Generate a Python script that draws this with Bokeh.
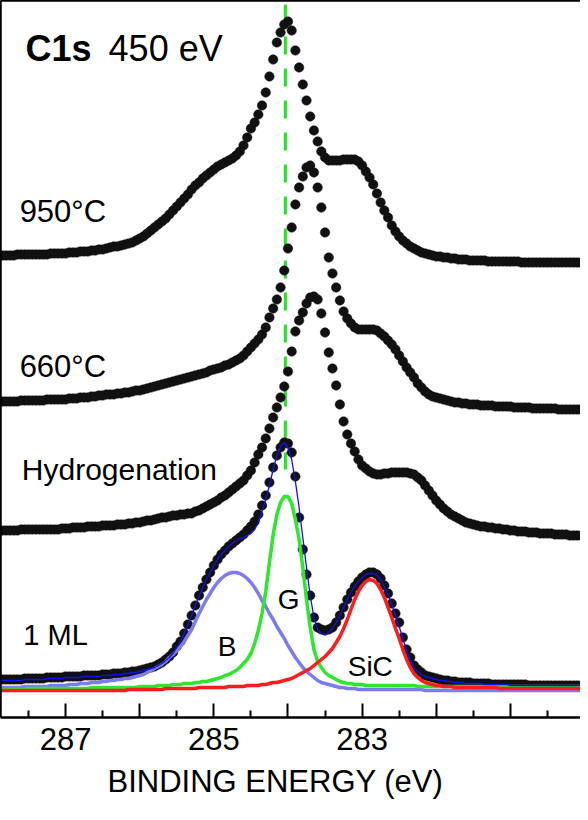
from bokeh.plotting import figure
from bokeh.models import Range1d, FixedTicker, CustomJSTickFormatter, LinearAxis, Label, ColumnDataSource, Title
from bokeh.embed import file_html
from bokeh.resources import INLINE

# ---------------- data (binding energy grid, eV) ----------------
E_START, E_STEP, N_PTS = 287.90, 0.05, 158
energy = [round(E_START - E_STEP * i, 2) for i in range(N_PTS)]

# spectra (offset intensities, arbitrary units), segments of the grid:
# A 287.90-287.10 (17) | B 287.05-286.45 (13) | C..O 9 points each | P 280.55-280.05 (11)
s950 = ([462]*5 + [463]*9 + [464]*3 +
        [464,464,465,465,465,466,466,466,467,467,468,468,469] +
        [470,471,471,472,473,474,475,477,479] +
        [481,484,487,490,493,496,499,503,507] +
        [511,515,519,523,528,532,535,539,542] +
        [545,548,551,553,555,557,559,562,566] +
        [572,580,589,595,603,612,625,641,658] +
        [675,685,693,696,687,667,650,633,617] +
        [601,587,576,566,560,557,557,557,557] +
        [558,558,558,558,556,552,546,540,533] +
        [524,515,507,500,492,486,481,477,474] +
        [471,469,467,465,464,463,462,461,461] +
        [460,460,459,459,458,458,458,457,457] +
        [457,457,457,456,456,456,456,456,456] +
        [456,456,456,455,455,455,455,455,455] +
        [455]*11)

s660 = ([316,316,316,316,316,316,317,317,317,317,317,317,317,318,318,318,318] +
        [318,318,319,319,319,320,320,320,321,321,322,322,323] +
        [323,323,324,324,325,325,326,327,327] +
        [328,329,330,331,332,333,334,335,336] +
        [337,338,339,340,341,342,343,344,345] +
        [347,348,349,350,352,353,355,357,359] +
        [362,366,370,374,378,383,390,400,409] +
        [418,430,447,469,490,513,530,541,550] +
        [552,545,530,510,485,460,444,430,417] +
        [406,399,394,390,388,388,388,388,388] +
        [387,384,381,377,373,368,362,356,350] +
        [345,340,334,330,326,323,321,320,319] +
        [318,317,316,315,315,314,314,313,313] +
        [313,312,312,312,312,311,311,311,311] +
        [311,310,310,310,310,310,309,309,309] +
        [309,309,309,309,308,308,308,308,308,308,308])

s_hyd = ([187]*6 + [188]*11 +
         [189,189,189,190,190,190,190,191,191,191,191,192,192] +
         [192,192,193,193,193,194,194,195,195] +
         [196,197,197,198,199,200,200,201,202] +
         [202,203,203,204,204,206,207,209,211] +
         [213,215,217,220,222,225,228,231,234] +
         [237,242,247,255,263,270,279,289,300] +
         [310,320,331,346,366,386,397,405,414] +
         [420,421,418,404,385,365,349,332,313] +
         [296,283,274,266,258,252,249,246,244] +
         [243,243,244,244,245,245,245,245,245] +
         [244,243,240,237,232,227,222,217,213] +
         [209,206,203,201,199,197,195,194,193] +
         [192,191,191,190,190,189,189,188,188] +
         [187,187,186,186,186,185,185,185,184] +
         [184,184,184,183,183,183,183,182,182,182,182])

s_1ml = ([38]*7 + [39]*6 + [40]*4 +
         [40,41,41,41,41,41,42,42,42,42,42,43,43] +
         [43,44,44,44,45,45,46,46,47] +
         [48,49,50,51,53,55,58,61,65] +
         [71,76,84,93,102,112,122,130,138] +
         [145,152,158,163,167,171,174,177,180] +
         [183,187,191,196,203,212,222,235,250] +
         [262,270,275,274,265,241,200,168,143] +
         [122,100,90,88,87,88,90,95,102] +
         [110,118,125,131,136,140,143,145,145] +
         [143,139,132,124,114,104,95,80,68] +
         [60,52,48,45,42,41,40,39,38] +
         [37,37,36,36,35,35,35,35,34] +
         [34,34,34,34,33,33,33,33,33] +
         [33,33,33,33,33,32,32,32,32] +
         [32]*11)

# fit components of the 1 ML spectrum
fit_sum = ([37]*7 + [38]*6 + [39]*4 +
           [39,40,40,40,40,40,41,41,41,41,41,42,42] +
           [42,43,43,43,44,44,45,45,46] +
           [47,48,49,50,52,54,57,60,64] +
           [70,76,84,93,102,112,121,130,138] +
           [145,152,158,163,167,171,174,177,179] +
           [180,182,184,188,195,206,218,232,248] +
           [262,271,275,270,258,236,210,180,150] +
           [122,100,88,84,83,85,89,95,102] +
           [110,118,125,131,136,140,143,144,144] +
           [142,138,131,123,113,102,91,79,67] +
           [57,50,46,43,41,40,39,38,37] +
           [37,36,36,35,35,35,34,34,34] +
           [34,34,33,33,33,33,33,33,33] +
           [32]*9 +
           [32]*11)

fit_b = ([30]*7 + [31]*7 + [32]*3 +
         [32,32,33,33,33,34,34,34,35,35,35,36,36] +
         [37,37,38,38,39,39,40,41,42] +
         [43,45,47,49,51,53,56,60,63] +
         [67,71,76,82,88,96,104,111,118] +
         [124,130,135,139,142,144,145,145,144] +
         [142,139,135,130,124,117,111,104,98] +
         [91,85,79,72,66,60,55,50,46] +
         [43,40,37,35,34,33,32,31,30] +
         [30,29,29,29,28,28,28,28,28] +
         [28]*9 +
         [28,28,28,28,27,27,27,27,27] +
         [27]*27 +
         [27]*11)

fit_g = ([28]*8 + [29]*9 +
         [29]*8 + [30]*5 +
         [30]*8 + [31] +
         [31,31,31,31,32,32,32,32,33] +
         [33,33,34,34,34,35,35,36,36] +
         [37,38,39,40,42,43,45,47,50] +
         [54,58,64,74,87,104,126,155,183] +
         [203,215,221,221,214,198,178,150,118] +
         [90,68,56,50,45,42,40,38,36] +
         [35,34,34,33,33,33,32,32,32] +
         [32]*9 +
         [32,32,31,31,31,31,31,31,31] +
         [31]*27 +
         [31]*11)

fit_sic = ([27]*17 +
           [27]*13 +
           [27,27,27,27,27,28,28,28,28] +
           [28,28,28,28,28,28,29,29,29] +
           [29,29,29,29,29,29,30,30,30] +
           [30,30,30,30,30,31,31,31,31] +
           [31,32,32,32,32,33,33,34,35] +
           [35,36,37,38,39,41,43,45,47] +
           [49,52,55,58,61,65,69,75,81] +
           [89,98,108,118,126,132,136,138,137] +
           [134,128,120,110,100,89,79,68,58] +
           [50,44,40,37,35,34,33,32,32] +
           [31,31,31,30,30,30,30,30,30] +
           [30,30,30,30,30,30,29,29,29] +
           [29]*9 +
           [29]*11)

g_peak_energy = 284.035          # dashed marker of the graphene component
g_marker_top, g_marker_bottom = 713, 248

major_ticks = [287, 286, 285, 284, 283, 282, 281]
minor_ticks = [287.5, 286.5, 285.5, 284.5, 283.5, 282.5, 281.5, 280.5]
labelled_ticks = [287, 285, 283]
x_title = "BINDING ENERGY (eV)"

src = ColumnDataSource(dict(e=energy, s950=s950, s660=s660, hyd=s_hyd, ml=s_1ml,
                            fsum=fit_sum, fb=fit_b, fg=fit_g, fsic=fit_sic))

# ---------------- figure ----------------
FONT = "Liberation Sans"
p = figure(width=580, height=812, output_backend="svg", toolbar_location=None,
           x_range=Range1d(287.878, 280.054), y_range=Range1d(0, 717),
           min_border_left=0, min_border_right=0, min_border_top=0, min_border_bottom=95)
p.grid.visible = False
p.outline_line_color = None
p.background_fill_color = "white"
p.border_fill_color = "white"

xa = p.xaxis[0]
xa.ticker = FixedTicker(ticks=major_ticks, minor_ticks=minor_ticks)
xa.formatter = CustomJSTickFormatter(args=dict(keep=labelled_ticks), code="""
    const r = Math.round(tick);
    return (Math.abs(tick - r) < 1e-6 && keep.includes(r)) ? String(r) : "";
""")
xa.major_tick_in = 14
xa.major_tick_out = 0
xa.minor_tick_in = 7
xa.minor_tick_out = 0
xa.major_tick_line_width = 2
xa.minor_tick_line_width = 2
xa.axis_line_width = 2.5
xa.major_label_text_font = FONT
xa.major_label_text_font_size = "31px"
xa.major_label_text_color = "black"
xa.major_label_standoff = 10

ya = p.yaxis[0]
ya.ticker = FixedTicker(ticks=[])
ya.major_tick_in = 0
ya.major_tick_out = 0
ya.minor_tick_in = 0
ya.minor_tick_out = 0
ya.major_label_text_font_size = "0px"
ya.major_label_standoff = 0
ya.axis_line_width = 2.5

top = LinearAxis(ticker=FixedTicker(ticks=[]), major_tick_in=0, major_tick_out=0,
                 minor_tick_in=0, minor_tick_out=0, major_label_text_font_size="0px",
                 major_label_standoff=0, axis_line_width=2.5)
p.add_layout(top, "above")

# x-axis title, placed slightly left of centre as in the original
p.add_layout(Title(text=x_title, align="left", offset=107, standoff=18,
                   text_font=FONT, text_font_size="31px", text_font_style="normal",
                   text_color="black"), "below")

# dashed marker
p.segment(x0=[g_peak_energy], y0=[g_marker_top], x1=[g_peak_energy], y1=[g_marker_bottom],
          line_color="#22E622", line_width=3, line_dash="18 14")

# measured spectra
DOT = "#111111"
for col in ["s950", "s660", "hyd", "ml"]:
    p.scatter("e", col, source=src, size=9.5, fill_color=DOT, line_color=DOT, line_width=0.5)

# fit components
p.line("e", "fb", source=src, line_color="#7B7BF2", line_width=3.5)
p.line("e", "fg", source=src, line_color="#2EE62E", line_width=3.5)
p.line("e", "fsic", source=src, line_color="#FF1C1C", line_width=3.5)
p.line("e", "fsum", source=src, line_color="#1010EE", line_width=1.3)

# texts
def lab(x, y, text, size, style="normal", align="left"):
    p.add_layout(Label(x=x, y=y, text=text, text_font=FONT, text_font_size=size,
                       text_font_style=style, text_color="black", text_align=align,
                       text_baseline="alphabetic"))

lab(287.54, 669, "C1s", "36px", "bold")
lab(286.42, 669, "450 eV", "36px")
lab(287.62, 506, "950°C", "31px")
lab(287.62, 351, "660°C", "31px")
lab(287.59, 248, "Hydrogenation", "30px")
lab(287.57, 83, "1 ML", "29px")
lab(284.82, 71, "B", "28px", align="center")
lab(283.99, 118, "G", "28px", align="center")
lab(282.89, 51, "SiC", "28px", align="center")

open("out.html", "w").write(file_html(p, INLINE))
